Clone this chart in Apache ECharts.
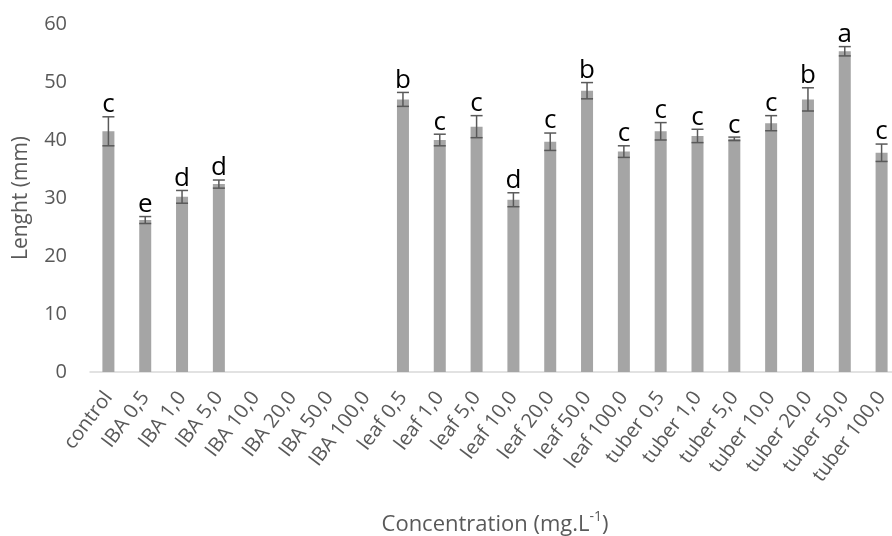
<!DOCTYPE html>
<html><head><meta charset="utf-8">
<script src="https://cdn.jsdelivr.net/npm/echarts@6/dist/echarts.min.js"></script>
<style>html,body{margin:0;padding:0;background:#fff}#c{width:892px;height:536px}</style>
</head><body><div id="c"></div>
<script>
const categories = ['control','IBA 0,5','IBA 1,0','IBA 5,0','IBA 10,0','IBA 20,0','IBA 50,0','IBA 100,0','leaf 0,5','leaf 1,0','leaf 5,0','leaf 10,0','leaf 20,0','leaf 50,0','leaf 100,0','tuber 0,5','tuber 1,0','tuber 5,0','tuber 10,0','tuber 20,0','tuber 50,0','tuber 100,0'];
const means = [41.5,26.2,30.2,32.4,null,null,null,null,47.0,40.0,42.3,29.7,39.7,48.5,38.0,41.5,40.7,40.2,42.9,47.0,55.3,37.8];
const errors = [2.5,0.6,1.1,0.7,null,null,null,null,1.2,1.0,1.9,1.2,1.5,1.4,1.0,1.5,1.15,0.3,1.3,2.0,0.8,1.5];
const letters = ['c','e','d','d','','','','','b','c','c','d','c','b','c','c','c','c','c','b','a','c'];
const yMin = 0, yMax = 60, yStep = 10;

const FONT = 'Open Sans';
const errData = [];
means.forEach((m, i) => { if (m !== null) errData.push([i, m, errors[i]]); });
const errLetters = [];
means.forEach((m, i) => { if (m !== null) errLetters.push(letters[i]); });

function renderErr(params, api) {
  const i = api.value(0), m = api.value(1), e = api.value(2);
  const top = api.coord([i, m + e]);
  const bot = api.coord([i, m - e]);
  const hw = 6;
  const st = { stroke: '#595959', lineWidth: 1.5 };
  return {
    type: 'group',
    children: [
      { type: 'line', shape: { x1: top[0], y1: top[1], x2: bot[0], y2: bot[1] }, style: st },
      { type: 'line', shape: { x1: top[0] - hw, y1: top[1], x2: top[0] + hw, y2: top[1] }, style: st },
      { type: 'line', shape: { x1: bot[0] - hw, y1: bot[1], x2: bot[0] + hw, y2: bot[1] }, style: st },
      { type: 'text', x: top[0], y: top[1] + 1,
        style: { text: errLetters[params.dataIndex], textAlign: 'center', textVerticalAlign: 'bottom',
                 fontSize: 26, fontFamily: FONT, fill: '#000' } }
    ]
  };
}

const chart = echarts.init(document.getElementById('c'), null, { renderer: 'canvas' });
chart.setOption({
  animation: false,
  backgroundColor: '#fff',
  grid: { left: 90, right: -8, top: 24, bottom: 164, containLabel: false, outerBoundsMode: 'none' },
  xAxis: {
    type: 'category',
    data: categories,
    axisLine: { lineStyle: { color: '#d9d9d9', width: 1.5 } },
    axisTick: { show: false },
    axisLabel: { rotate: 53, interval: 0, margin: 22, color: '#595959', fontSize: 20, fontFamily: FONT, hideOverlap: false },
    name: 'Concentration (mg.L{sup|-1})',
    nameLocation: 'middle',
    nameGap: 138,
    nameTextStyle: {
      color: '#595959', fontSize: 22, fontFamily: FONT, lineHeight: 30,
      rich: { sup: { fontSize: 14, lineHeight: 14, verticalAlign: 'top', color: '#595959', fontFamily: FONT } }
    }
  },
  yAxis: {
    type: 'value',
    min: yMin, max: yMax, interval: yStep,
    axisLine: { show: false },
    axisTick: { show: false },
    splitLine: { show: false },
    axisLabel: { color: '#595959', fontSize: 20, fontFamily: FONT, margin: 23 },
    name: 'Lenght (mm)',
    nameLocation: 'middle',
    nameGap: 58,
    nameTextStyle: { color: '#595959', fontSize: 21, fontFamily: FONT }
  },
  series: [
    { type: 'bar', data: means, barWidth: 12, itemStyle: { color: '#a5a5a5' } },
    { type: 'custom', data: errData, renderItem: renderErr, z: 5 }
  ]
});
</script></body></html>
